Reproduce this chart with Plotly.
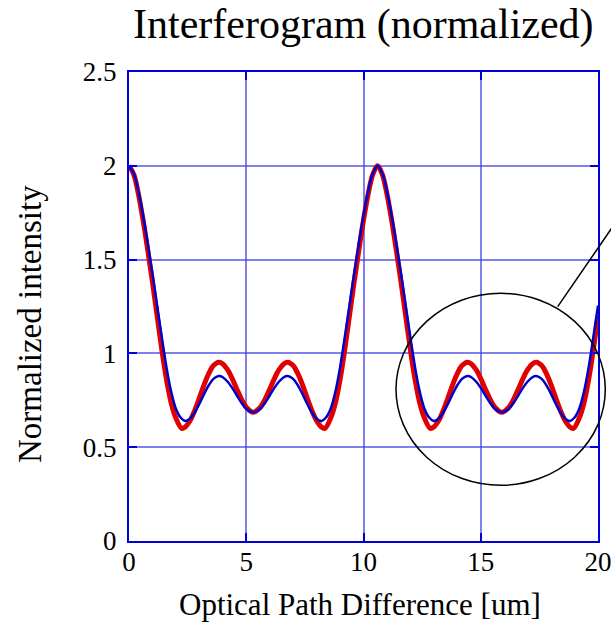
import plotly.graph_objects as go

# Optical path difference [um] and normalized intensity
red_x = [0.0, 0.2, 0.4, 0.6, 0.8, 1.0, 1.2, 1.4, 1.6, 1.8, 2.0, 2.25, 2.4, 2.6, 2.8, 3.0, 3.2, 3.4, 3.6, 3.83,
         4.0, 4.2, 4.4, 4.6, 4.8, 5.0, 5.3, 5.6, 5.8, 6.0, 6.2, 6.4, 6.6, 6.77, 7.0, 7.2, 7.4, 7.6, 7.8,
         8.0, 8.2, 8.35, 8.6, 8.8, 9.0, 9.2, 9.4, 9.6, 9.8, 10.0, 10.2, 10.4, 10.6, 10.8, 11.0, 11.2, 11.4,
         11.6, 11.8, 12.0, 12.2, 12.4, 12.6, 12.85, 13.0, 13.2, 13.4, 13.6, 13.8, 14.0, 14.2, 14.43, 14.6,
         14.8, 15.0, 15.2, 15.4, 15.6, 15.9, 16.2, 16.4, 16.6, 16.8, 17.0, 17.2, 17.37, 17.6, 17.8, 18.0,
         18.2, 18.4, 18.6, 18.8, 18.95, 19.2, 19.4, 19.6, 19.8, 20.0]
red_y = [2.00, 1.955, 1.85, 1.71, 1.55, 1.38, 1.20, 1.02, 0.86, 0.735, 0.655, 0.60, 0.608, 0.641, 0.695, 0.762,
         0.832, 0.892, 0.935, 0.953, 0.944, 0.913, 0.866, 0.809, 0.755, 0.713, 0.686, 0.713, 0.755, 0.809,
         0.866, 0.913, 0.944, 0.953, 0.935, 0.892, 0.832, 0.762, 0.695, 0.641, 0.608, 0.60, 0.655, 0.735,
         0.86, 1.02, 1.20, 1.38, 1.55, 1.71, 1.85, 1.955, 2.00, 1.955, 1.85, 1.71, 1.55, 1.38, 1.20, 1.02,
         0.86, 0.735, 0.655, 0.60, 0.608, 0.641, 0.695, 0.762, 0.832, 0.892, 0.935, 0.953, 0.944, 0.913,
         0.866, 0.809, 0.755, 0.713, 0.686, 0.713, 0.755, 0.809, 0.866, 0.913, 0.944, 0.953, 0.935, 0.892,
         0.832, 0.762, 0.695, 0.641, 0.608, 0.60, 0.655, 0.735, 0.86, 1.02, 1.20]

blue_x = [0.0, 0.2, 0.4, 0.6, 0.8, 1.0, 1.2, 1.4, 1.6, 1.8, 2.0, 2.2, 2.39, 2.6, 2.8, 3.0, 3.2, 3.4, 3.6, 3.83,
          4.0, 4.2, 4.4, 4.6, 4.8, 5.0, 5.3, 5.6, 5.8, 6.0, 6.2, 6.4, 6.6, 6.77, 7.0, 7.2, 7.4, 7.6, 7.8,
          8.0, 8.21, 8.4, 8.6, 8.8, 9.0, 9.2, 9.4, 9.6, 9.8, 10.0, 10.2, 10.4, 10.6, 10.8, 11.0, 11.2, 11.4,
          11.6, 11.8, 12.0, 12.2, 12.4, 12.6, 12.8, 12.99, 13.2, 13.4, 13.6, 13.8, 14.0, 14.2, 14.43, 14.6,
          14.8, 15.0, 15.2, 15.4, 15.6, 15.9, 16.2, 16.4, 16.6, 16.8, 17.0, 17.2, 17.37, 17.6, 17.8, 18.0,
          18.2, 18.4, 18.6, 18.81, 19.0, 19.2, 19.4, 19.6, 19.8, 20.0]
blue_y = [2.00, 1.96, 1.865, 1.735, 1.585, 1.425, 1.255, 1.085, 0.925, 0.795, 0.705, 0.658, 0.64, 0.652, 0.685,
          0.731, 0.783, 0.830, 0.864, 0.879, 0.873, 0.850, 0.816, 0.775, 0.736, 0.705, 0.686, 0.705, 0.736,
          0.775, 0.816, 0.850, 0.873, 0.879, 0.864, 0.830, 0.783, 0.731, 0.685, 0.652, 0.64, 0.658, 0.705,
          0.795, 0.925, 1.085, 1.255, 1.425, 1.585, 1.735, 1.865, 1.96, 2.00, 1.96, 1.865, 1.735, 1.585,
          1.425, 1.255, 1.085, 0.925, 0.795, 0.705, 0.658, 0.64, 0.652, 0.685, 0.731, 0.783, 0.830, 0.864,
          0.879, 0.873, 0.850, 0.816, 0.775, 0.736, 0.705, 0.686, 0.705, 0.736, 0.775, 0.816, 0.850, 0.873,
          0.879, 0.864, 0.830, 0.783, 0.731, 0.685, 0.652, 0.64, 0.658, 0.705, 0.795, 0.925, 1.085, 1.255]

x_ticks = [0, 5, 10, 15, 20]
y_ticks = [0, 0.5, 1, 1.5, 2, 2.5]

title_text = "Interferogram (normalized)"
x_title = "Optical Path Difference [um]"
y_title = "Normalized intensity"

FONT = "Liberation Serif, Times New Roman, serif"
AXIS_BLUE = "#0000dd"
GRID_BLUE = "rgba(60,60,230,0.65)"

fig = go.Figure()
fig.add_trace(go.Scatter(x=red_x, y=red_y, mode="lines",
                         line=dict(color="#e00000", width=5, shape="spline", smoothing=1.0),
                         showlegend=False, hoverinfo="skip"))
fig.add_trace(go.Scatter(x=blue_x, y=blue_y, mode="lines",
                         line=dict(color="#0000cc", width=2.5, shape="spline", smoothing=1.0),
                         showlegend=False, hoverinfo="skip"))

axis_common = dict(
    showline=True, linecolor=AXIS_BLUE, linewidth=2, mirror="ticks",
    ticks="inside", ticklen=8, tickwidth=1.5, tickcolor=AXIS_BLUE,
    showgrid=True, gridcolor=GRID_BLUE, gridwidth=1.5,
    zeroline=False, tickfont=dict(family=FONT, size=27, color="black"),
    ticklabeloverflow="allow", automargin=False,
)

fig.update_layout(
    width=611, height=622, autosize=False,
    margin=dict(l=129, r=13, t=72, b=81),
    paper_bgcolor="white", plot_bgcolor="white",
    font=dict(family=FONT, color="black"),
    xaxis=dict(range=[0, 20], tickvals=x_ticks, ticklabelstandoff=-4, **axis_common),
    yaxis=dict(range=[0, 2.5], tickvals=y_ticks, ticklabelstandoff=5, **axis_common),
    annotations=[
        dict(text=title_text, xref="paper", yref="paper", x=0.5, y=(541 - 24) / 469,
             xanchor="center", yanchor="middle", showarrow=False,
             font=dict(family=FONT, size=42, color="black")),
        dict(text=x_title, xref="paper", yref="paper", x=(360 - 129) / 469, y=(541 - 604) / 469,
             xanchor="center", yanchor="middle", showarrow=False,
             font=dict(family=FONT, size=31, color="black")),
        dict(text=y_title, xref="paper", yref="paper", x=(30 - 129) / 469, y=(541 - 324) / 469,
             xanchor="center", yanchor="middle", showarrow=False, textangle=-90,
             font=dict(family=FONT, size=33, color="black")),
    ],
    shapes=[
        dict(type="circle", xref="paper", yref="paper",
             x0=(396 - 129) / 469, x1=(605.3 - 129) / 469,
             y0=(541 - 485.3) / 469, y1=(541 - 293.3) / 469,
             line=dict(color="black", width=1.5), layer="above"),
        dict(type="line", xref="paper", yref="paper",
             x0=(557.7 - 129) / 469, y0=(541 - 306.7) / 469,
             x1=(640 - 129) / 469, y1=(541 - 187) / 469,
             line=dict(color="black", width=1.5), layer="above"),
    ],
)

fig.write_html("out.html")
